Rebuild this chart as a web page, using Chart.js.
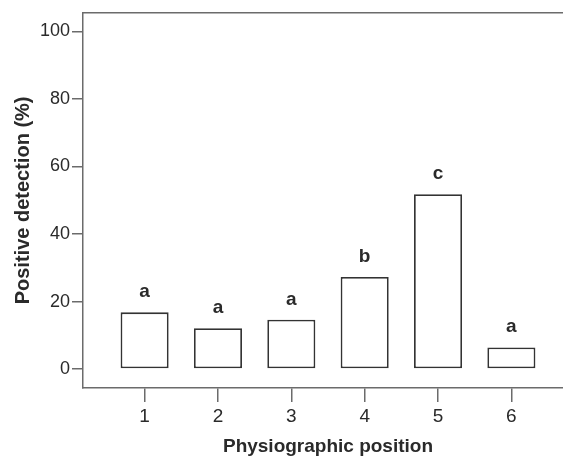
<!DOCTYPE html>
<html>
<head>
<meta charset="utf-8">
<script src="https://cdn.jsdelivr.net/npm/chart.js@4"></script>
<style>
  html, body { margin: 0; padding: 0; background: #fff; overflow: hidden; }
  #wrap { width: 563px; height: 464px; overflow: hidden; }
</style>
</head>
<body>
<div id="wrap"><canvas id="myChart" width="580" height="464"></canvas></div>
<script>
// data
var positions = [1, 2, 3, 4, 5, 6];
var detection = [16.8, 12.1, 14.6, 27.3, 51.8, 6.4];
var letters = ["a", "a", "a", "b", "c", "a"];
var yTicks = [0, 20, 40, 60, 80, 100];

var axisColor = '#6b6b6b';
var textColor = '#2a2a2a';
var fontFamily = '"Liberation Sans", Arial, sans-serif';

// top and right lines of the frame
var frame = {
  id: 'frame',
  afterDraw: function (chart) {
    var a = chart.chartArea, c = chart.ctx;
    c.save();
    c.strokeStyle = axisColor;
    c.lineWidth = 1.5;
    c.beginPath();
    c.moveTo(a.left, a.top);
    c.lineTo(a.right, a.top);
    c.lineTo(a.right, a.bottom);
    c.stroke();
    c.restore();
  }
};

// significance letters above bars
var groupLetters = {
  id: 'groupLetters',
  afterDatasetsDraw: function (chart) {
    var c = chart.ctx;
    var bars = chart.getDatasetMeta(0).data;
    c.save();
    c.fillStyle = textColor;
    c.font = 'bold 19px ' + fontFamily;
    c.textAlign = 'center';
    c.textBaseline = 'alphabetic';
    bars.forEach(function (bar, i) {
      c.fillText(letters[i], bar.x, bar.y - 15);
    });
    c.restore();
  }
};

new Chart(document.getElementById('myChart'), {
  type: 'bar',
  data: {
    datasets: [{
      data: positions.map(function (p, i) { return { x: p, y: detection[i] }; }),
      backgroundColor: '#ffffff',
      borderColor: '#333333',
      borderWidth: 1.8,
      borderSkipped: false,
      categoryPercentage: 1,
      barPercentage: 0.655
    }]
  },
  plugins: [frame, groupLetters],
  options: {
    responsive: false,
    animation: false,
    layout: { padding: { top: 11, right: 7, left: 0, bottom: 0 } },
    plugins: {
      legend: { display: false },
      tooltip: { enabled: false }
    },
    scales: {
      x: {
        type: 'linear',
        offset: false,
        min: 0.16,
        max: 6.84,
        afterBuildTicks: function (s) { s.ticks = positions.map(function (p) { return { value: p }; }); },
        afterFit: function (s) { s.height = 76; },
        grid: { offset: false, drawOnChartArea: false, drawTicks: true, tickLength: 14, color: axisColor, lineWidth: 1.5 },
        border: { display: true, color: axisColor, width: 1.5 },
        ticks: {
          color: textColor,
          font: { family: fontFamily, size: 19 },
          padding: 3,
          maxRotation: 0,
          callback: function (v) { return String(v); }
        },
        title: {
          display: true,
          text: 'Physiographic position',
          color: textColor,
          font: { family: fontFamily, size: 19, weight: 'bold' },
          padding: { top: 0, bottom: 6 }
        }
      },
      y: {
        min: -5.6,
        max: 105.5,
        afterBuildTicks: function (s) { s.ticks = yTicks.map(function (v) { return { value: v }; }); },
        afterFit: function (s) { s.width = 83; },
        grid: { drawOnChartArea: false, drawTicks: true, tickLength: 11, color: axisColor, lineWidth: 1.5 },
        border: { display: true, color: axisColor, width: 1.5 },
        ticks: {
          color: textColor,
          font: { family: fontFamily, size: 18 },
          padding: 2
        },
        title: {
          display: true,
          text: 'Positive detection (%)',
          color: textColor,
          font: { family: fontFamily, size: 20, weight: 'bold' },
          padding: { top: 11, bottom: 0 }
        }
      }
    }
  }
});
</script>
</body>
</html>
